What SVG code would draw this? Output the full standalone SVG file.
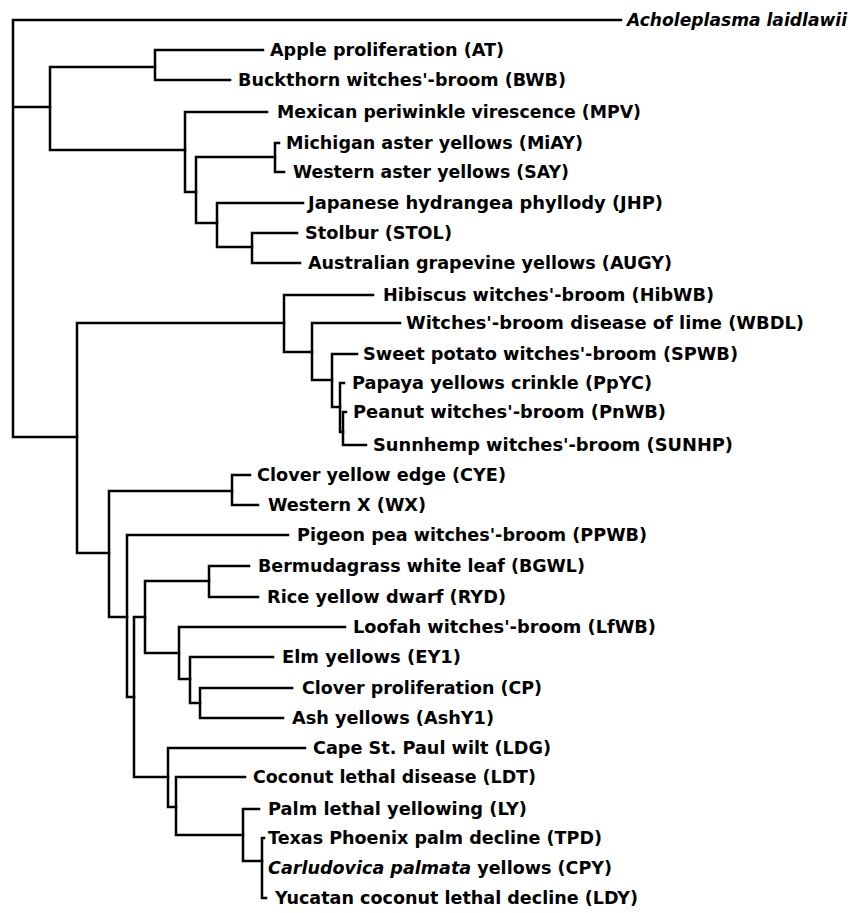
<svg xmlns="http://www.w3.org/2000/svg" width="868" height="913" viewBox="0 0 868 913">
<style>
.e{fill:none;stroke:#000;stroke-width:2.5;stroke-linecap:square;stroke-linejoin:miter}
text{font-family:"DejaVu Sans","Liberation Sans",sans-serif;font-weight:bold;font-size:17.5px;fill:#000}
.i{font-style:italic}
</style>
<rect width="868" height="913" fill="#fff"/>
<g id="connectors">
<path class="e" d="M621 20H13V437H77M13 107H50"/>
<path class="e" d="M155 67H50V150H185"/>
<path class="e" d="M263 50H155V80H230"/>
<path class="e" d="M267 112H185V192H196"/>
<path class="e" d="M275 157H196V223H217"/>
<path class="e" d="M279 143H275V172H284"/>
<path class="e" d="M303 203H217V247H252"/>
<path class="e" d="M297 233H252V263H300"/>
<path class="e" d="M284 323H77V553H109"/>
<path class="e" d="M373 295H284V352H312"/>
<path class="e" d="M400 323H312V380H332"/>
<path class="e" d="M357 354H332V407H340"/>
<path class="e" d="M344 383H340V432H343"/>
<path class="e" d="M346 412H343V445H366"/>
<path class="e" d="M232 491H109V617H127"/>
<path class="e" d="M250 475H232V505H258"/>
<path class="e" d="M288 535H127V697H134"/>
<path class="e" d="M145 617H134V777H168"/>
<path class="e" d="M209 581H145V653H179"/>
<path class="e" d="M249 566H209V597H258"/>
<path class="e" d="M345 627H179V679H190"/>
<path class="e" d="M273 657H190V703H200"/>
<path class="e" d="M292 688H200V718H283"/>
<path class="e" d="M305 748H168V807H176"/>
<path class="e" d="M245 777H176V835H243"/>
<path class="e" d="M259 809H243V861H262"/>
<path class="e" d="M264 838H262V898H266"/>
</g>
<g id="n-acholeplasma"><text class="i" x="627" y="26" textLength="220" lengthAdjust="spacingAndGlyphs">Acholeplasma laidlawii</text></g>
<g id="n-AT"><text x="270" y="56" textLength="234" lengthAdjust="spacingAndGlyphs">Apple proliferation (AT)</text></g>
<g id="n-BWB"><text x="238" y="86" textLength="328" lengthAdjust="spacingAndGlyphs">Buckthorn witches'-broom (BWB)</text></g>
<g id="n-MPV"><text x="277" y="118" textLength="364" lengthAdjust="spacingAndGlyphs">Mexican periwinkle virescence (MPV)</text></g>
<g id="n-MiAY"><text x="286" y="149" textLength="297" lengthAdjust="spacingAndGlyphs">Michigan aster yellows (MiAY)</text></g>
<g id="n-SAY"><text x="293" y="178" textLength="276" lengthAdjust="spacingAndGlyphs">Western aster yellows (SAY)</text></g>
<g id="n-JHP"><text x="308" y="209" textLength="355" lengthAdjust="spacingAndGlyphs">Japanese hydrangea phyllody (JHP)</text></g>
<g id="n-STOL"><text x="305" y="239" textLength="147" lengthAdjust="spacingAndGlyphs">Stolbur (STOL)</text></g>
<g id="n-AUGY"><text x="308" y="269" textLength="364" lengthAdjust="spacingAndGlyphs">Australian grapevine yellows (AUGY)</text></g>
<g id="n-HibWB"><text x="383" y="301" textLength="331" lengthAdjust="spacingAndGlyphs">Hibiscus witches'-broom (HibWB)</text></g>
<g id="n-WBDL"><text x="406" y="329" textLength="398" lengthAdjust="spacingAndGlyphs">Witches'-broom disease of lime (WBDL)</text></g>
<g id="n-SPWB"><text x="363" y="360" textLength="375" lengthAdjust="spacingAndGlyphs">Sweet potato witches'-broom (SPWB)</text></g>
<g id="n-PpYC"><text x="352" y="389" textLength="300" lengthAdjust="spacingAndGlyphs">Papaya yellows crinkle (PpYC)</text></g>
<g id="n-PnWB"><text x="353" y="418" textLength="313" lengthAdjust="spacingAndGlyphs">Peanut witches'-broom (PnWB)</text></g>
<g id="n-SUNHP"><text x="373" y="451" textLength="360" lengthAdjust="spacingAndGlyphs">Sunnhemp witches'-broom (SUNHP)</text></g>
<g id="n-CYE"><text x="257" y="481" textLength="249" lengthAdjust="spacingAndGlyphs">Clover yellow edge (CYE)</text></g>
<g id="n-WX"><text x="268" y="511" textLength="158" lengthAdjust="spacingAndGlyphs">Western X (WX)</text></g>
<g id="n-PPWB"><text x="297" y="541" textLength="350" lengthAdjust="spacingAndGlyphs">Pigeon pea witches'-broom (PPWB)</text></g>
<g id="n-BGWL"><text x="258" y="572" textLength="327" lengthAdjust="spacingAndGlyphs">Bermudagrass white leaf (BGWL)</text></g>
<g id="n-RYD"><text x="267" y="603" textLength="239" lengthAdjust="spacingAndGlyphs">Rice yellow dwarf (RYD)</text></g>
<g id="n-LfWB"><text x="353" y="633" textLength="303" lengthAdjust="spacingAndGlyphs">Loofah witches'-broom (LfWB)</text></g>
<g id="n-EY1"><text x="282" y="663" textLength="179" lengthAdjust="spacingAndGlyphs">Elm yellows (EY1)</text></g>
<g id="n-CP"><text x="302" y="694" textLength="240" lengthAdjust="spacingAndGlyphs">Clover proliferation (CP)</text></g>
<g id="n-AshY1"><text x="292" y="724" textLength="202" lengthAdjust="spacingAndGlyphs">Ash yellows (AshY1)</text></g>
<g id="n-LDG"><text x="313" y="754" textLength="238" lengthAdjust="spacingAndGlyphs">Cape St. Paul wilt (LDG)</text></g>
<g id="n-LDT"><text x="253" y="783" textLength="283" lengthAdjust="spacingAndGlyphs">Coconut lethal disease (LDT)</text></g>
<g id="n-LY"><text x="268" y="815" textLength="259" lengthAdjust="spacingAndGlyphs">Palm lethal yellowing (LY)</text></g>
<g id="n-TPD"><text x="268" y="844" textLength="334" lengthAdjust="spacingAndGlyphs">Texas Phoenix palm decline (TPD)</text></g>
<g id="n-CPY"><text x="268" y="874" textLength="344" lengthAdjust="spacingAndGlyphs"><tspan class="i">Carludovica palmata</tspan> yellows (CPY)</text></g>
<g id="n-LDY"><text x="275" y="904" textLength="363" lengthAdjust="spacingAndGlyphs">Yucatan coconut lethal decline (LDY)</text></g>
</svg>
